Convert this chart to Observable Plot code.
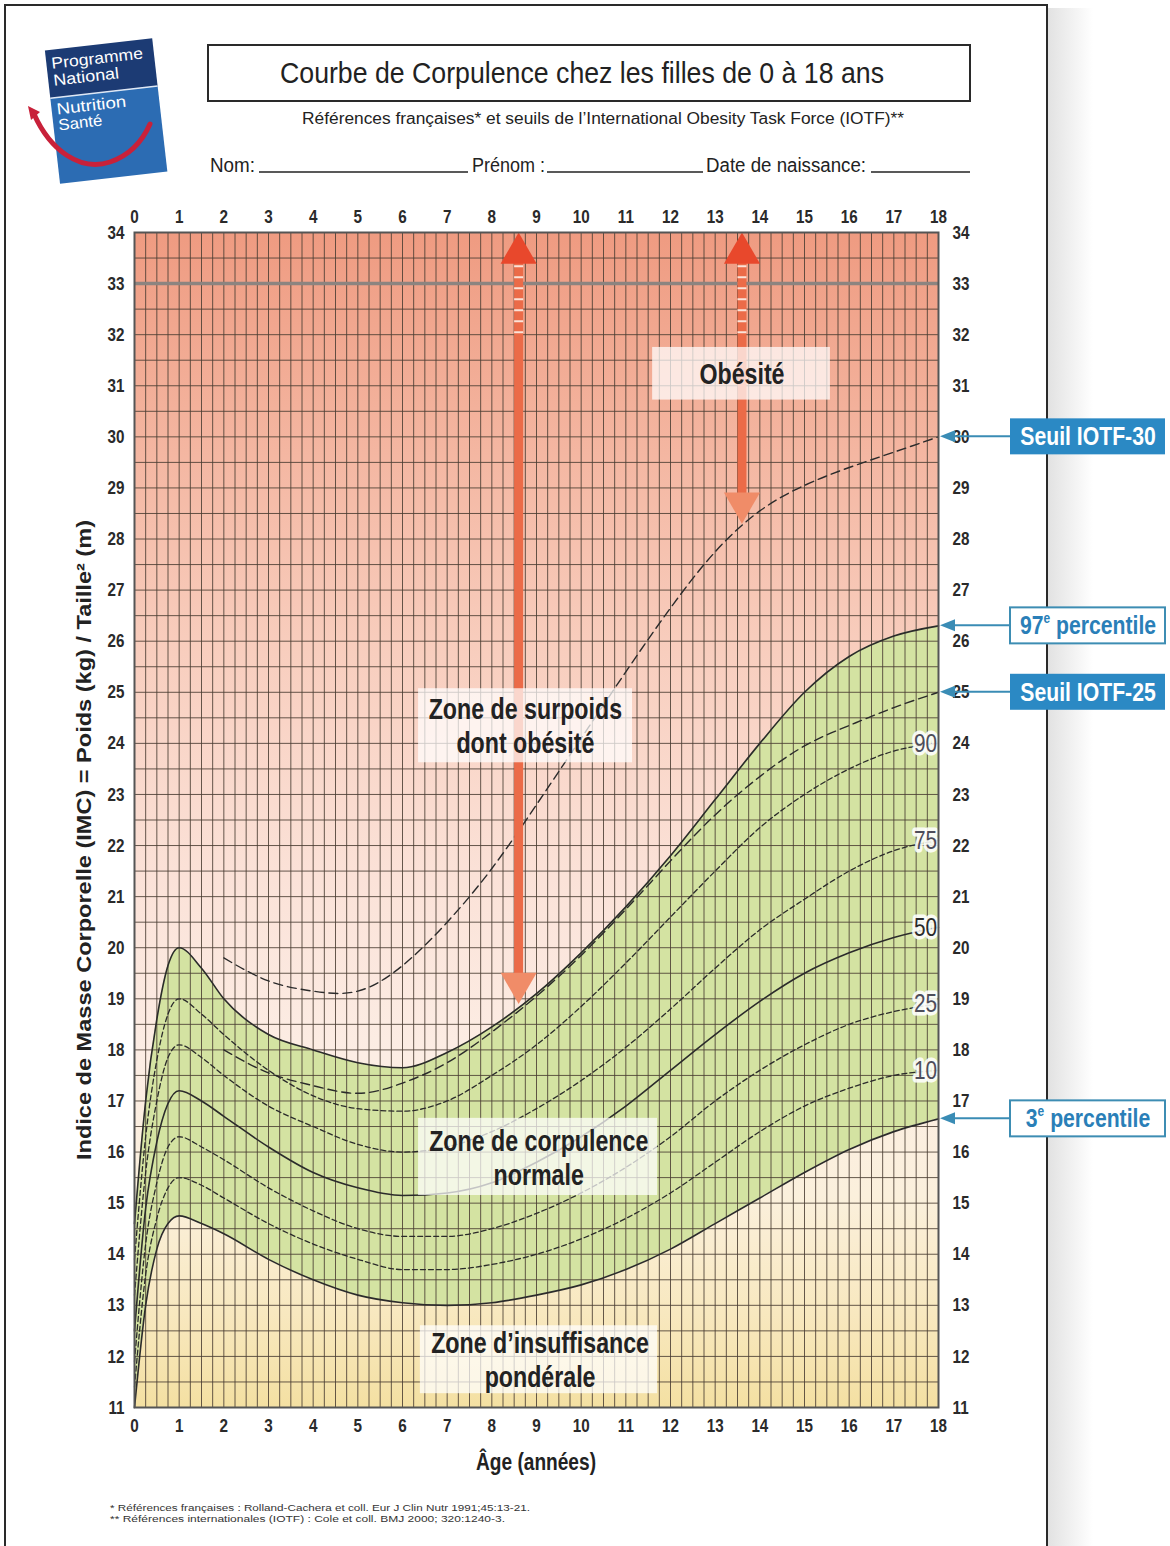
<!DOCTYPE html>
<html><head><meta charset="utf-8">
<script src="https://cdn.jsdelivr.net/npm/d3@7"></script>
<script src="https://cdn.jsdelivr.net/npm/@observablehq/plot@0.6"></script>
<style>
html,body{margin:0;padding:0;background:#fff;}
#page{position:relative;width:1170px;height:1546px;overflow:hidden;background:#fff;}
</style></head><body><div id="page"></div>
<script>
const FONT = '"Liberation Sans", Arial, sans-serif';

// ---- data ----
const ages = [0,0.25,0.5,0.75,1,1.5,2,3,4,5,6,7,8,9,10,11,12,13,14,15,16,17,18];
const p3  = [11.0,13.0,14.1,14.6,14.75,14.6,14.4,13.9,13.5,13.2,13.05,13.0,13.05,13.2,13.4,13.7,14.1,14.6,15.1,15.6,16.05,16.4,16.65];
const p10 = [11.4,13.6,14.7,15.3,15.5,15.35,15.1,14.6,14.2,13.9,13.7,13.7,13.8,14.0,14.3,14.7,15.2,15.8,16.4,16.9,17.25,17.5,17.6];
const p25 = [11.9,14.2,15.4,16.1,16.3,16.1,15.85,15.3,14.85,14.5,14.35,14.35,14.5,14.8,15.2,15.7,16.3,17.0,17.6,18.1,18.5,18.75,18.9];
const p50 = [12.5,14.9,16.2,16.95,17.2,17.0,16.7,16.1,15.6,15.3,15.15,15.2,15.4,15.8,16.3,16.9,17.6,18.3,18.95,19.5,19.9,20.2,20.4];
const p75 = [13.2,15.6,17.0,17.85,18.1,17.85,17.5,16.9,16.5,16.15,16.0,16.1,16.4,16.85,17.4,18.05,18.8,19.6,20.35,20.95,21.5,21.9,22.1];
const p90 = [13.9,16.3,17.8,18.7,19.0,18.7,18.3,17.6,17.1,16.85,16.8,17.0,17.5,18.1,18.85,19.7,20.6,21.5,22.35,23.0,23.5,23.85,24.0];
const p97 = [14.6,17.0,18.6,19.65,20.0,19.6,19.0,18.3,18.0,17.75,17.65,17.95,18.45,19.1,19.9,20.8,21.8,22.9,24.0,25.0,25.7,26.1,26.3];

const iotfAges = [2,3,4,5,6,7,8,9,10,11,12,13,14,15,16,17,18];
const iotf25 = [18.0,17.55,17.3,17.15,17.35,17.75,18.35,19.05,19.85,20.75,21.7,22.6,23.35,23.95,24.35,24.7,25.0];
const iotf30 = [19.8,19.35,19.15,19.15,19.65,20.5,21.55,22.8,24.1,25.4,26.65,27.75,28.55,29.05,29.4,29.7,30.0];

const xTicks = d3.range(0, 19);
const yTicks = d3.range(11, 35);

// arrows: age and the BMI where each ends
const arrowAges = [8.6, 13.6];
const arrowTops = [34, 34];
const arrowBottoms = [18.9, 28.3];

// zone annotations (anchor age, BMI, and box extent in data units)
const zoneText = ["Zone de surpoids\ndont obésité", "Zone de corpulence\nnormale", "Zone d’insuffisance\npondérale", "Obésité"];
const zoneAge = [8.75, 9.05, 9.08, 13.6];
const zoneBmi = [24.35, 15.9, 11.95, 31.25];
const zoneAge1 = [6.36, 6.36, 6.4, 11.6];
const zoneAge2 = [11.15, 11.71, 11.71, 15.58];
const zoneBmi1 = [23.62, 15.15, 11.27, 30.72];
const zoneBmi2 = [25.07, 16.66, 12.6, 31.75];

// ---- tables ----
const pctNames = ["P3","P10","P25","P50","P75","P90","P97"];
const pctVals = [p3,p10,p25,p50,p75,p90,p97];
const rows = [];
pctNames.forEach((n,i)=> ages.forEach((a,j)=> rows.push({series:n, age:a, bmi:pctVals[i][j]})));
const iotfRows = [];
[["IOTF-25",iotf25],["IOTF-30",iotf30]].forEach(([n,v])=> iotfAges.forEach((a,j)=> iotfRows.push({series:n, age:a, bmi:v[j]})));
const band = ages.map((a,j)=>({age:a, lo:p3[j], hi:p97[j]}));
const solid = rows.filter(d => ["P3","P50","P97"].includes(d.series));
const dashed = rows.filter(d => ["P10","P25","P75","P90"].includes(d.series));
const arrows = arrowAges.map((a,i)=>({age:a, top:arrowTops[i], bottom:arrowBottoms[i]}));
const zones = zoneText.map((t,i)=>({text:t, age:zoneAge[i], bmi:zoneBmi[i], x1:zoneAge1[i], x2:zoneAge2[i], y1:zoneBmi1[i], y2:zoneBmi2[i]}));
const lastAge = ages[ages.length-1];
const pctLabels = [["90",p90],["75",p75],["50",p50],["25",p25],["10",p10]].map(([n,v])=>({name:n, age:lastAge, bmi:v[v.length-1]}));

const chart = Plot.plot({
  width: 1170, height: 1546,
  marginLeft: 134, marginRight: 232, marginTop: 232, marginBottom: 139,
  x: {domain: [0, 18]},
  y: {domain: [11, 34]},
  style: {fontFamily: FONT, fontSize: "18px", color: "#2a2a2a", background: "transparent", overflow: "visible"},
  marks: [
    Plot.frame({fill: "url(#bgGrad)"}),
    Plot.areaY(band, {x: "age", y1: "lo", y2: "hi", curve: "monotone-x", fill: "#d4e3a2"}),
    Plot.ruleX(d3.range(0, 18.001, 0.25), {stroke: "#4a3d32", strokeWidth: 1, strokeOpacity: 0.85}),
    Plot.ruleY(d3.range(11, 34.001, 0.5), {stroke: "#4a3d32", strokeWidth: 1, strokeOpacity: 0.85}),
    Plot.ruleY([33], {stroke: "#8c8480", strokeWidth: 3.5}),
    Plot.line(iotfRows, {x: "age", y: "bmi", z: "series", curve: "natural", stroke: "#2b2b2b", strokeWidth: 1.4, strokeDasharray: "9,5"}),
    Plot.line(dashed, {x: "age", y: "bmi", z: "series", curve: "monotone-x", stroke: "#2b2b2b", strokeWidth: 1.3, strokeDasharray: "5,3"}),
    Plot.line(solid, {x: "age", y: "bmi", z: "series", curve: "monotone-x", stroke: "#2b2b2b", strokeWidth: 1.6}),
    // arrows
    Plot.ruleX(arrows, {x: "age", y1: "top", y2: "bottom", stroke: "#eb6b48", strokeWidth: 9, insetTop: 24, insetBottom: 24}),
    Plot.ruleX(arrows, {x: "age", y1: 33.35, y2: 32.0, stroke: "#fbe3d8", strokeWidth: 9, strokeDasharray: "2,9"}),
    Plot.dot(arrows, {x: "age", y: "top", symbol: "triangle", r: 13.4, fill: "#e8482c", stroke: null, dy: 20.8}),
    Plot.dot(arrows, {x: "age", y: "bottom", symbol: "triangle", r: 13.4, rotate: 180, fill: "#f08c68", stroke: null, dy: -20.8}),
    // zone boxes & text
    Plot.rect(zones, {x1: "x1", x2: "x2", y1: "y1", y2: "y2", fill: "white", fillOpacity: 0.72}),
    Plot.text(zones, {x: "age", y: "bmi", text: "text", fontSize: 29, fontWeight: "bold", fill: "#222", lineHeight: 1.17}),
    // percentile labels
    Plot.text(pctLabels, {x: "age", y: "bmi", text: "name", dx: -13, fontSize: 26, fill: d => d.name === "50" ? "#2a2a2a" : "#4d4d5a", stroke: "white", strokeWidth: 7, strokeOpacity: 0.9, paintOrder: "stroke"}),
    // axes
    Plot.axisX({anchor: "top", ticks: xTicks, tickSize: 0, tickPadding: 10, tickFormat: "d", fontWeight: "bold", fontSize: 19, label: null}),
    Plot.axisX({anchor: "bottom", ticks: xTicks, tickSize: 0, tickPadding: 11, tickFormat: "d", fontWeight: "bold", fontSize: 19, label: null}),
    Plot.axisY({anchor: "left", ticks: yTicks, tickSize: 0, tickPadding: 10, tickFormat: "d", fontWeight: "bold", fontSize: 19, label: null}),
    Plot.axisY({anchor: "right", ticks: yTicks, tickSize: 0, tickPadding: 14, tickFormat: "d", fontWeight: "bold", fontSize: 19, label: null}),
    Plot.frame({stroke: "#555", strokeWidth: 2})
  ]
});
document.getElementById("page").appendChild(chart);

const svg = d3.select(chart);
const X = chart.scale("x"), Y = chart.scale("y");
const defs = svg.insert("defs", ":first-child");
const bg = defs.append("linearGradient").attr("id", "bgGrad").attr("x1", 0).attr("y1", 0).attr("x2", 0).attr("y2", 1);
[[0,"#ef9b81"],[0.15,"#f3b19b"],[0.35,"#f8cdbd"],[0.55,"#fbe2d8"],[0.7,"#fcede4"],[0.82,"#fbf0dc"],[0.92,"#f8e8bf"],[1,"#f4e0a2"]]
  .forEach(([o,c]) => bg.append("stop").attr("offset", o).attr("stop-color", c));
const sh = defs.append("linearGradient").attr("id", "shadow").attr("x1", 0).attr("y1", 0).attr("x2", 1).attr("y2", 0);
sh.append("stop").attr("offset", 0).attr("stop-color", "#e2e2e2");
sh.append("stop").attr("offset", 1).attr("stop-color", "#ffffff");

// condense all chart text (the reference uses a narrow typeface)
function condense(el, f) {
  const L = el.getComputedTextLength();
  if (L > 0) { el.setAttribute("textLength", (L * f).toFixed(1)); el.setAttribute("lengthAdjust", "spacingAndGlyphs"); }
}
chart.querySelectorAll("text").forEach(t => {
  const ts = t.querySelectorAll("tspan");
  if (ts.length) ts.forEach(s => condense(s, 0.8)); else condense(t, 0.8);
});

const g = svg.append("g").attr("font-family", FONT).attr("text-anchor", "start");
// page border + shadow
g.append("rect").attr("x", 1048).attr("y", 8).attr("width", 45).attr("height", 1540).attr("fill", "url(#shadow)");
g.append("rect").attr("x", 5).attr("y", 5).attr("width", 1042).attr("height", 1600).attr("fill", "none").attr("stroke", "#2a2a2a").attr("stroke-width", 2);

// logo
const lg = g.append("g").attr("transform", "rotate(-6.5,106,110)");
lg.append("rect").attr("x", 52).attr("y", 44).attr("width", 108).attr("height", 48).attr("fill", "#1c3b74");
lg.append("rect").attr("x", 52).attr("y", 92).attr("width", 108).attr("height", 86).attr("fill", "#2c6cb3");
lg.append("line").attr("x1", 52).attr("x2", 160).attr("y1", 92).attr("y2", 92).attr("stroke", "#dfe8f5").attr("stroke-width", 1.5);
[["Programme",63,92],["National",80,66],["Nutrition",109,70],["Santé",125,44]].forEach(([t,y,w]) =>
  lg.append("text").attr("x", 57).attr("y", y).attr("fill", "white").attr("font-size", 16).attr("textLength", w).attr("lengthAdjust", "spacingAndGlyphs").text(t));
g.append("path").attr("d", "M34,114 C50,150 80,172 110,162 C128,156 142,142 150,124").attr("fill", "none").attr("stroke", "#c8213a").attr("stroke-width", 5).attr("stroke-linecap", "round");
g.append("path").attr("d", "M28,106 L40,112 L31,120 Z").attr("fill", "#c8213a");

// title
g.append("rect").attr("x", 208).attr("y", 45).attr("width", 762).attr("height", 56).attr("fill", "none").attr("stroke", "#2a2a2a").attr("stroke-width", 2);
g.append("text").attr("x", 582).attr("y", 83).attr("text-anchor", "middle").attr("font-size", 30).attr("fill", "#222").attr("textLength", 604).attr("lengthAdjust", "spacingAndGlyphs").text("Courbe de Corpulence chez les filles de 0 à 18 ans");
g.append("text").attr("x", 603).attr("y", 124).attr("text-anchor", "middle").attr("font-size", 16).attr("fill", "#222").attr("textLength", 602).attr("lengthAdjust", "spacingAndGlyphs").text("Références françaises* et seuils de l’International Obesity Task Force (IOTF)**");
[["Nom:",210,45],["Prénom :",472,73],["Date de naissance:",706,160]].forEach(([t,x,w]) =>
  g.append("text").attr("x", x).attr("y", 172).attr("font-size", 20).attr("fill", "#222").attr("textLength", w).attr("lengthAdjust", "spacingAndGlyphs").text(t));
[[259,468],[547,703],[871,970]].forEach(([a,b]) =>
  g.append("line").attr("x1", a).attr("x2", b).attr("y1", 172).attr("y2", 172).attr("stroke", "#222").attr("stroke-width", 1.5));

// axis titles
g.append("text").attr("transform", "translate(91,840) rotate(-90)").attr("text-anchor", "middle").attr("font-size", 20).attr("font-weight", "bold").attr("fill", "#222").attr("textLength", 640).attr("lengthAdjust", "spacingAndGlyphs").text("Indice de Masse Corporelle (IMC) = Poids (kg) / Taille² (m)");
g.append("text").attr("x", X.apply(9)).attr("y", 1470).attr("text-anchor", "middle").attr("font-size", 23).attr("font-weight", "bold").attr("fill", "#222").attr("textLength", 120).attr("lengthAdjust", "spacingAndGlyphs").text("Âge (années)");

// footnotes
g.append("text").attr("x", 110).attr("y", 1511).attr("font-size", 8.5).attr("fill", "#333").attr("textLength", 420).attr("lengthAdjust", "spacingAndGlyphs").text("* Références françaises : Rolland-Cachera et coll. Eur J Clin Nutr 1991;45:13-21.");
g.append("text").attr("x", 110).attr("y", 1522).attr("font-size", 8.5).attr("fill", "#333").attr("textLength", 395).attr("lengthAdjust", "spacingAndGlyphs").text("** Références internationales (IOTF) : Cole et coll. BMJ 2000; 320:1240-3.");

// callouts
const callouts = [
  {label: "Seuil IOTF-30", sup: null, value: iotf30[iotf30.length-1], filled: true},
  {label: "97", sup: "e", rest: " percentile", value: p97[p97.length-1], filled: false},
  {label: "Seuil IOTF-25", sup: null, value: iotf25[iotf25.length-1], filled: true},
  {label: "3", sup: "e", rest: " percentile", value: p3[p3.length-1], filled: false}
];
const edge = X.apply(18);
callouts.forEach(c => {
  const y = Y.apply(c.value);
  g.append("line").attr("x1", edge + 10).attr("x2", 1010).attr("y1", y).attr("y2", y).attr("stroke", "#3a8cb5").attr("stroke-width", 2);
  g.append("path").attr("d", `M${edge+2},${y} L${edge+17},${y-6} L${edge+17},${y+6} Z`).attr("fill", "#3a8cb5");
  g.append("rect").attr("x", 1010).attr("y", y - 18).attr("width", 155).attr("height", 36)
    .attr("fill", c.filled ? "#2b89c4" : "white").attr("stroke", c.filled ? "none" : "#3d8db3").attr("stroke-width", 2);
  const t = g.append("text").attr("transform", `translate(1088,${y + 9}) scale(0.8,1)`).attr("text-anchor", "middle")
    .attr("font-size", 26.5).attr("font-weight", "bold").attr("fill", c.filled ? "white" : "#2a7fb8");
  if (c.sup) {
    t.append("tspan").text(c.label);
    t.append("tspan").attr("font-size", 15).attr("dy", -11).text(c.sup);
    t.append("tspan").attr("dy", 11).text(c.rest);
  } else t.text(c.label);
});
</script></body></html>
